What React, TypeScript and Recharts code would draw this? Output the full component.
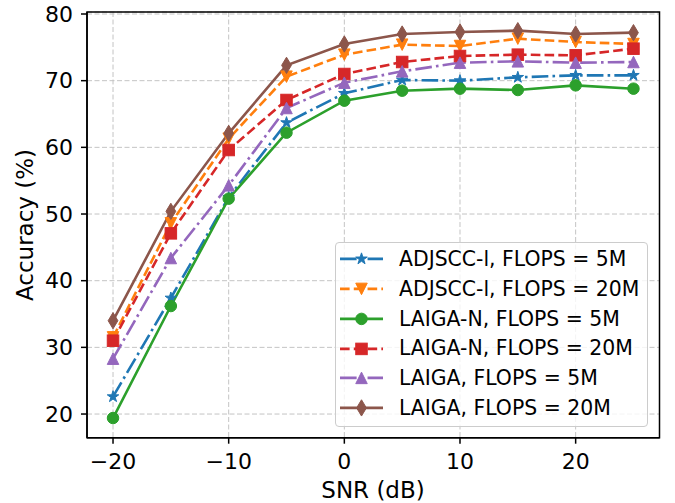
import {
  LineChart,
  Line,
  XAxis,
  YAxis,
  CartesianGrid,
  Legend,
  ReferenceArea,
} from "recharts";

// SNR values (dB)
const snr = [-20, -15, -10, -5, 0, 5, 10, 15, 20, 25];

// accuracy (%) per method
const adjscc5 = [22.6, 37.4, 52.5, 63.7, 68.1, 70.1, 70.0, 70.5, 70.8, 70.8];
const adjscc20 = [31.5, 48.6, 61.3, 70.6, 73.9, 75.4, 75.2, 76.3, 75.8, 75.5];
const laigaN5 = [19.4, 36.2, 52.3, 62.2, 67.0, 68.5, 68.8, 68.6, 69.3, 68.8];
const laigaN20 = [31.0, 47.1, 59.6, 67.1, 71.0, 72.8, 73.7, 73.9, 73.8, 74.8];
const laiga5 = [28.3, 43.4, 54.3, 65.9, 69.7, 71.4, 72.7, 72.9, 72.7, 72.8];
const laiga20 = [34.0, 50.4, 62.1, 72.3, 75.5, 77.0, 77.3, 77.5, 77.0, 77.2];

const xTicks = [-20, -10, 0, 10, 20];
const yTicks = [20, 30, 40, 50, 60, 70, 80];

const FONT = "DejaVu Sans";
const LW = 2.6;
const MS = 11.5;
const DASHED = `${3.7 * LW} ${1.6 * LW}`;
const DASHDOT = `${6.4 * LW} ${1.6 * LW} ${LW} ${1.6 * LW}`;

type Shape = "star" | "tdown" | "circle" | "square" | "tup" | "thind";

const series: {
  key: string;
  name: string;
  values: number[];
  color: string;
  dash?: string;
  shape: Shape;
}[] = [
  { key: "adjscc5", name: "ADJSCC-l, FLOPS = 5M", values: adjscc5, color: "#1f77b4", dash: DASHDOT, shape: "star" },
  { key: "adjscc20", name: "ADJSCC-l, FLOPS = 20M", values: adjscc20, color: "#ff7f0e", dash: DASHED, shape: "tdown" },
  { key: "laigaN5", name: "LAIGA-N, FLOPS = 5M", values: laigaN5, color: "#2ca02c", shape: "circle" },
  { key: "laigaN20", name: "LAIGA-N, FLOPS = 20M", values: laigaN20, color: "#d62728", dash: DASHED, shape: "square" },
  { key: "laiga5", name: "LAIGA, FLOPS = 5M", values: laiga5, color: "#9467bd", dash: DASHDOT, shape: "tup" },
  { key: "laiga20", name: "LAIGA, FLOPS = 20M", values: laiga20, color: "#8c564b", shape: "thind" },
];

const data = snr.map((x, i) => {
  const row: Record<string, number> = { snr: x };
  series.forEach((s) => (row[s.key] = s.values[i]));
  return row;
});

const Marker = ({ shape, cx, cy, color }: { shape: Shape; cx: number; cy: number; color: string }) => {
  const r = MS / 2;
  const common = { fill: color, stroke: color, strokeWidth: 1 };
  if (shape === "circle") return <circle cx={cx} cy={cy} r={r} {...common} />;
  if (shape === "square")
    return <rect x={cx - r} y={cy - r} width={MS} height={MS} {...common} />;
  let pts: number[][] = [];
  if (shape === "tup") pts = [[0, -r], [-r, r], [r, r]];
  if (shape === "tdown") pts = [[0, r], [-r, -r], [r, -r]];
  if (shape === "thind") {
    const h = MS * Math.SQRT1_2;
    pts = [[0, -h], [0.6 * h, 0], [0, h], [-0.6 * h, 0]];
  }
  if (shape === "star") {
    for (let k = 0; k < 10; k++) {
      const rad = k % 2 === 0 ? r * 1.05 : r * 1.05 * 0.381966;
      const a = (Math.PI / 5) * k - Math.PI / 2;
      pts.push([rad * Math.cos(a), rad * Math.sin(a)]);
    }
  }
  return (
    <polygon
      points={pts.map(([x, y]) => `${cx + x},${cy + y}`).join(" ")}
      {...common}
      strokeLinejoin="miter"
    />
  );
};

const renderLegend = () => (
  <div
    style={{
      boxSizing: "border-box",
      width: 313,
      height: 185,
      border: "1px solid #cccccc",
      borderRadius: 4,
      background: "rgba(255,255,255,0.8)",
      paddingTop: 1.5,
      fontFamily: FONT,
    }}
  >
    {series.map((s) => (
      <div key={s.key} style={{ display: "flex", alignItems: "center", height: 29.8 }}>
        <svg width={60} height={29.8} style={{ display: "block" }}>
          <line x1={4} x2={47} y1={14.9} y2={14.9} stroke={s.color} strokeWidth={LW} strokeDasharray={s.dash} />
          <Marker shape={s.shape} cx={25.5} cy={14.9} color={s.color} />
        </svg>
        <span style={{ fontSize: 20.4, marginLeft: 3, color: "#000", whiteSpace: "nowrap" }}>{s.name}</span>
      </div>
    ))}
  </div>
);

const tickStyle = { fontSize: 22, fill: "#000", fontFamily: FONT };
const fmt = (v: number) => String(v).replace("-", "\u2212");

const App = () => {
  return (
    <div style={{ position: "absolute", left: 0, top: 0, fontFamily: FONT }}>
      <LineChart
        width={675}
        height={503}
        data={data}
        margin={{ top: 12, right: 15.5, bottom: 0, left: 0 }}
      >
        <CartesianGrid stroke="#c4c4c4" strokeDasharray="5 2.5" strokeWidth={1} />
        <XAxis
          dataKey="snr"
          type="number"
          domain={[-22.25, 27.25]}
          ticks={xTicks}
          allowDataOverflow
          height={65.3}
          tick={tickStyle}
          tickFormatter={fmt}
          tickSize={6}
          tickMargin={9.3}
          stroke="#000"
          strokeWidth={1.5}
          label={{
            content: () => (
              <text x={373} y={498} textAnchor="middle" fontSize={23} fontFamily={FONT} fill="#000">
                SNR (dB)
              </text>
            ),
          }}
        />
        <YAxis
          type="number"
          domain={[16.45, 80.3]}
          ticks={yTicks}
          allowDataOverflow
          width={87}
          tick={tickStyle}
          tickSize={6}
          tickMargin={8}
          stroke="#000"
          strokeWidth={1.5}
          label={{
            content: () => (
              <text
                x={33}
                y={225}
                textAnchor="middle"
                fontSize={23}
                fontFamily={FONT}
                fill="#000"
                transform="rotate(-90, 33, 225)"
              >
                Accuracy (%)
              </text>
            ),
          }}
        />
        <ReferenceArea
          x1={-22.25}
          x2={27.25}
          y1={16.45}
          y2={80.3}
          fill="none"
          stroke="#000"
          strokeWidth={1.5}
          ifOverflow="visible"
        />
        {series.map((s) => (
          <Line
            key={s.key}
            type="linear"
            dataKey={s.key}
            name={s.name}
            stroke={s.color}
            strokeWidth={LW}
            strokeDasharray={s.dash}
            isAnimationActive={false}
            activeDot={false}
            dot={(p: any) => (
              <Marker key={`${s.key}-${p.index}`} shape={s.shape} cx={p.cx} cy={p.cy} color={s.color} />
            )}
          />
        ))}
        <Legend
          layout="vertical"
          align="center"
          verticalAlign="middle"
          content={renderLegend}
          wrapperStyle={{ left: 335, top: 241.7, width: 313, height: 185 }}
        />
      </LineChart>
    </div>
  );
};

export default App;
